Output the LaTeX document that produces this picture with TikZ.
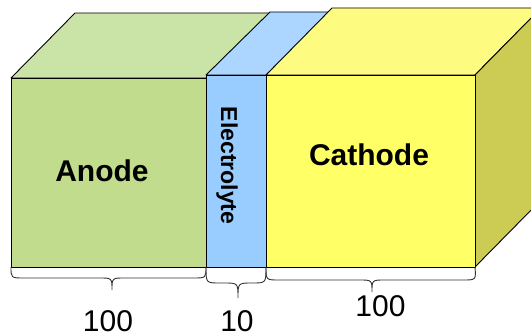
\documentclass[tikz,border=0pt]{standalone}
\usepackage{fontspec}
\setmainfont{Liberation Sans}
\begin{document}
\begin{tikzpicture}[x=1pt,y=-1pt,
  face/.style={draw=black,line width=0.9pt,line join=round},
  brace/.style={draw=black!80,line width=0.9pt},
  title/.style={inner sep=0pt,anchor=base,font=\fontsize{30}{36}\selectfont\bfseries},
  sizelabel/.style={inner sep=0pt,anchor=base,font=\fontsize{30}{36}\selectfont}]
\definecolor{anodefront}{RGB}{192,220,140}
\definecolor{anodetop}{RGB}{202,227,166}
\definecolor{elecfront}{RGB}{153,204,255}
\definecolor{electop}{RGB}{172,214,255}
\definecolor{cathfront}{RGB}{255,255,102}
\definecolor{cathtop}{RGB}{253,252,128}
\definecolor{cathside}{RGB}{204,204,85}
\useasboundingbox (0,0) rectangle (531,334);
\clip (0,0) rectangle (531,334);

% corner points of the three layers
\coordinate (a1) at (11,267);  \coordinate (a2) at (206,267);
\coordinate (a3) at (206,78);  \coordinate (a4) at (11,78);
\coordinate (e1) at (206,267); \coordinate (e2) at (266,267);
\coordinate (e3) at (266,75);  \coordinate (e4) at (206,75);
\coordinate (c1) at (266,267); \coordinate (c2) at (475,267);
\coordinate (c3) at (475,75);  \coordinate (c4) at (266,75);

% anode block
\filldraw[face,fill=anodetop] (a4) -- (75,13) -- (270,13) -- (a3) -- cycle;
\filldraw[face,fill=anodefront] (a1) rectangle (a3);

% electrolyte layer
\filldraw[face,fill=electop] (e4) -- (270,12) -- (332,12) -- (e3) -- cycle;
\filldraw[face,fill=elecfront] (e1) rectangle (e3);

% cathode block
\filldraw[face,fill=cathtop] (c4) -- (332,8) -- (541,8) -- (c3) -- cycle;
\filldraw[face,fill=cathside] (c3) -- (541,8) -- (541,200) -- (c2) -- cycle;
\filldraw[face,fill=cathfront] (c1) rectangle (c3);

% layer names
\node[title] (anode) at (102,181.7) {Anode};
\node[title] (cathode) at (369,166) {Cathode};
\node[title,font=\fontsize{23}{28}\selectfont\bfseries,rotate=-90] (electrolyte) at (221,165.5) {Electrolyte};

% thickness braces
\draw[brace] (a1) .. controls (11,278) and (11,278) .. (24,278) -- (99,278)
  .. controls (112,278) and (112,278) .. (112,290)
  .. controls (112,278) and (112,278) .. (125,278) -- (193,278)
  .. controls (206,278) and (206,278) .. (a2);
\draw[brace] (e1) .. controls (206,283) and (206,283) .. (220,283) -- (224,283)
  .. controls (238,283) and (238,283) .. (238,298)
  .. controls (238,283) and (238,283) .. (252,283) -- (252,283)
  .. controls (266,283) and (266,283) .. (e2);
\draw[brace] (c1) .. controls (266,280) and (266,280) .. (279,280) -- (359,280)
  .. controls (372,280) and (372,280) .. (372,292)
  .. controls (372,280) and (372,280) .. (385,280) -- (463,280)
  .. controls (476,280) and (476,280) .. (c2);

% thickness values
\node[sizelabel] (anodesize) at (108,331.7) {100};
\node[sizelabel] (elecsize) at (237,331.7) {10};
\node[sizelabel] (cathsize) at (380.5,316.7) {100};
\end{tikzpicture}
\end{document}
